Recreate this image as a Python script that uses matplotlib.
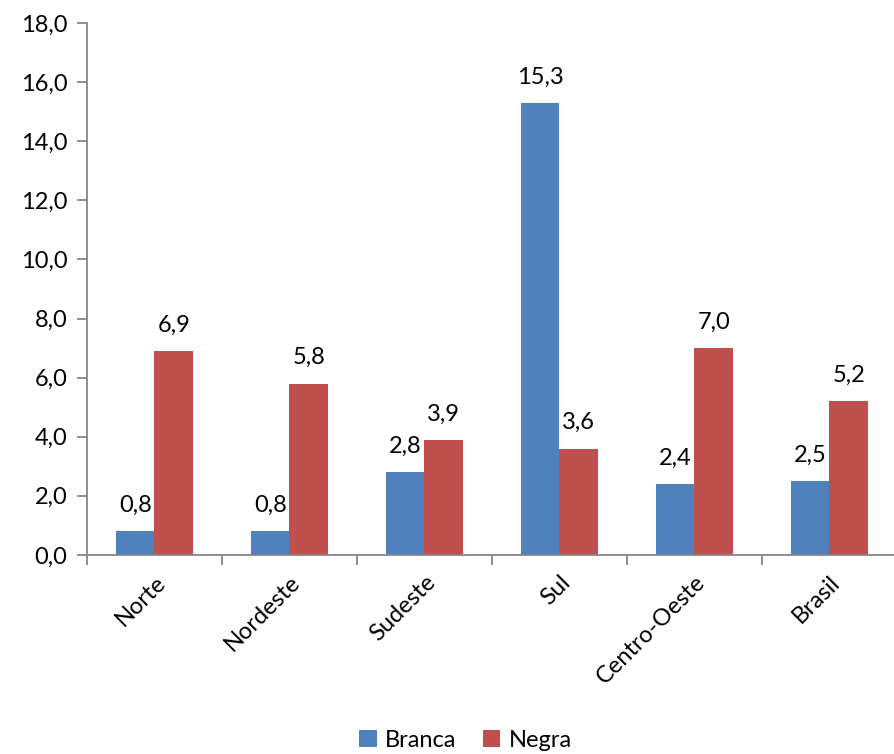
import matplotlib.pyplot as plt
import numpy as np

regioes = ["Norte", "Nordeste", "Sudeste", "Sul", "Centro-Oeste", "Brasil"]
branca = [0.8, 0.8, 2.8, 15.3, 2.4, 2.5]
negra = [6.9, 5.8, 3.9, 3.6, 7.0, 5.2]

plt.rcParams['font.family'] = ['Lato', 'DejaVu Sans']
fs = 17

fig = plt.figure(figsize=(8.95, 7.54), dpi=100)
ax = fig.add_axes([0.0972, 0.264, 0.905, 0.7055])

x = np.arange(len(regioes))
w = 0.285
b1 = ax.bar(x - w/2, branca, w, color="#4F81BD", label="Branca")
b2 = ax.bar(x + w/2, negra, w, color="#C0504D", label="Negra")

for bars, vals in ((b1, branca), (b2, negra)):
    for r, v in zip(bars, vals):
        ax.annotate(("%.1f" % v).replace(".", ","),
                    (r.get_x() + r.get_width()/2, r.get_height()),
                    xytext=(0, 11), textcoords="offset points",
                    ha="center", va="bottom", fontsize=fs)

ax.set_ylim(0, 18)
ax.set_xlim(-0.5, len(regioes) - 0.5)
ax.set_yticks(np.arange(0, 18.1, 2))
ax.set_yticklabels([("%.1f" % t).replace(".", ",") for t in np.arange(0, 18.1, 2)])

ax.set_xticks(x)
ax.set_xticklabels(regioes, rotation=45, ha="right", rotation_mode="anchor")
ax.set_xticks(np.arange(-0.5, len(regioes)), minor=True)
ax.tick_params(axis="x", which="major", length=0, pad=12, labelsize=fs)
ax.tick_params(axis="x", which="minor", length=7, color="#868686", width=1.3)
ax.tick_params(axis="y", length=7, color="#868686", width=1.3, labelsize=fs, pad=7)

for s in ["top", "right"]:
    ax.spines[s].set_visible(False)
for s in ["left", "bottom"]:
    ax.spines[s].set_color("#868686")
    ax.spines[s].set_linewidth(1.3)

fig.legend(handles=[b1, b2], loc="center", bbox_to_anchor=(0.52, 0.018),
           ncol=2, frameon=False, fontsize=fs, handlelength=0.75,
           handleheight=0.75, handletextpad=0.35, columnspacing=1.1)

fig.savefig("out.png", dpi=100)
